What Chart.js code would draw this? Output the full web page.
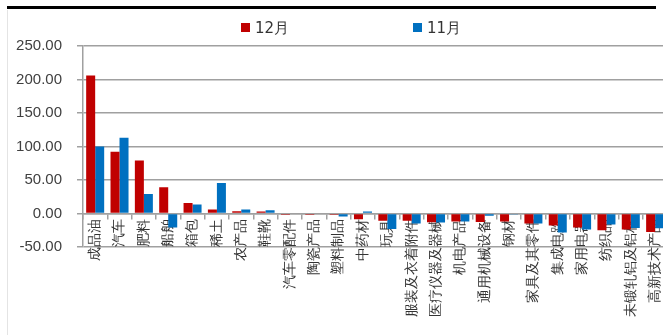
<!DOCTYPE html>
<html>
<head>
<meta charset="utf-8">
<script src="https://cdn.jsdelivr.net/npm/chart.js@4.4.1/dist/chart.umd.min.js"></script>
<style>
  html, body { margin: 0; padding: 0; background: #fff; overflow: hidden; }
  #wrap { position: relative; width: 672px; height: 335px; }
  #topLine { position: absolute; left: 7px; top: 6px; width: 649px; height: 3px; background: #000; }
  #leftLine { position: absolute; left: 7px; top: 10px; width: 1px; height: 325px; background: #e4e4e4; }
  .legend-item { position: absolute; top: 19px; font: 15px "DejaVu Sans", sans-serif; color: #333; line-height: 18px; }
  .legend-box { display: inline-block; width: 9px; height: 9px; margin-right: 5px; vertical-align: 1px; }
  canvas { position: absolute; left: 0; top: 0; }
</style>
</head>
<body>
<div id="wrap">
  <canvas id="chart" width="672" height="335"></canvas>
  <div id="topLine"></div>
  <div id="leftLine"></div>
  <div class="legend-item" style="left:241px"><span class="legend-box" style="background:#C00000"></span>12月</div>
  <div class="legend-item" style="left:413px"><span class="legend-box" style="background:#0070C0"></span>11月</div>
</div>
<script>
// categories and values
const categories = [
  '成品油', '汽车', '肥料', '船舶', '箱包', '稀土', '农产品', '鞋靴',
  '汽车零配件', '陶瓷产品', '塑料制品', '中药材', '玩具', '服装及衣着附件',
  '医疗仪器及器械', '机电产品', '通用机械设备', '钢材', '家具及其零件',
  '集成电路', '家用电器', '纺织品', '未锻轧铝及铝材', '高新技术产品'
];
const dec = [206, 92, 79, 39, 15.5, 6, 3.5, 3, -2, -2, -2, -8.5, -11, -11,
  -13, -12, -12.5, -12, -15, -18, -21, -25, -24, -27.5];
const nov = [100, 113, 29, -21, 13.5, 45.5, 6, 5, -1, -1, -4.5, 3, -23, -15,
  -13.5, -12, -3.5, -1.5, -15, -28.5, -24, -16.5, -21.5, -22];
const yMin = -50;
const yMax = 250;
const yStep = 50;

const gridColor = '#a0a0a0';

new Chart(document.getElementById('chart').getContext('2d'), {
  type: 'bar',
  data: {
    labels: categories,
    datasets: [
      {label: '12月', data: dec, backgroundColor: '#C00000', borderWidth: 0},
      {label: '11月', data: nov, backgroundColor: '#0070C0', borderWidth: 0}
    ]
  },
  options: {
    responsive: false,
    animation: false,
    layout: {padding: {top: 46, bottom: 88, right: 3, left: 0}},
    categoryPercentage: 0.74,
    barPercentage: 1,
    plugins: {
      legend: {display: false},
      tooltip: {enabled: false}
    },
    scales: {
      x: {
        position: {y: 0},  // axis line sits on the zero value
        grid: {
          drawOnChartArea: false,
          tickLength: 5,
          offset: true,
          color: gridColor,
          lineWidth: 1.5
        },
        border: {display: true, color: gridColor, width: 1.5},
        ticks: {
          autoSkip: false,
          minRotation: 90,
          maxRotation: 90,
          padding: 0,
          color: '#333',
          font: {size: 14}
        }
      },
      y: {
        min: yMin,
        max: yMax,
        afterFit: (scale) => { scale.width = 83; },
        grid: {color: gridColor, lineWidth: 1.5, tickLength: 6},
        border: {display: true, color: gridColor, width: 1.5},
        ticks: {
          stepSize: yStep,
          padding: 15,
          color: '#404040',
          font: {size: 15},
          callback: (v) => Number(v).toFixed(2)
        }
      }
    }
  }
});
</script>
</body>
</html>
